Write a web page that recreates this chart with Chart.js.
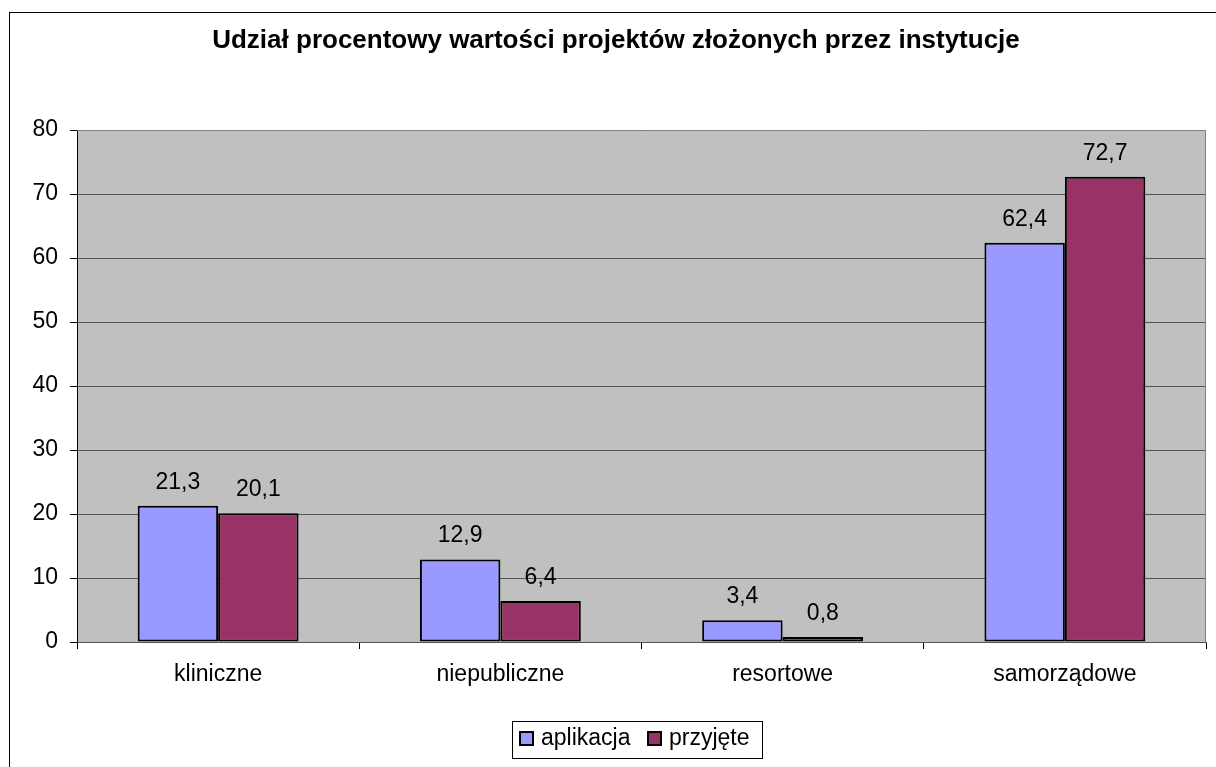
<!DOCTYPE html>
<html>
<head>
<meta charset="utf-8">
<script src="https://cdn.jsdelivr.net/npm/chart.js"></script>
<style>
    body { margin: 0; background: #fff; }
    #wrap { position: relative; width: 1216px; height: 767px; }
</style>
</head>
<body>
<div id="wrap"><canvas id="udzialChart" width="1216" height="767"></canvas></div>
<script>
const chartTitle = "Udział procentowy wartości projektów złożonych przez instytucje";
const categories = ["kliniczne", "niepubliczne", "resortowe", "samorządowe"];
const aplikacja = [21.3, 12.9, 3.4, 62.4];
const przyjete = [20.1, 6.4, 0.8, 72.7];
const seriesNames = ["aplikacja", "przyjęte"];
const seriesColors = ["#9999ff", "#993366"];
const yMin = 0, yMax = 80, yStep = 10;

const FONT = "'Liberation Sans', Arial, sans-serif";
const TEXT_SIZE = 23;
Chart.defaults.font.family = FONT;
Chart.defaults.color = "#000";

// frame, plot background, title, value labels and boxed legend
const excelLook = {
    id: "excelLook",
    beforeDraw(chart) {
        const ctx = chart.ctx;
        const a = chart.chartArea;
        ctx.save();
        ctx.fillStyle = "#fff";
        ctx.fillRect(0, 0, chart.width, chart.height);
        ctx.strokeStyle = "#000";
        ctx.lineWidth = 1;
        ctx.strokeRect(9.5, 12.5, 1400, 900);
        ctx.fillStyle = "#c0c0c0";
        ctx.fillRect(a.left, a.top, a.right - a.left, a.bottom - a.top);
        ctx.restore();
    },
    afterDatasetsDraw(chart) {
        const ctx = chart.ctx;
        ctx.save();
        ctx.font = TEXT_SIZE + "px " + FONT;
        ctx.fillStyle = "#000";
        ctx.textAlign = "center";
        ctx.textBaseline = "alphabetic";
        chart.data.datasets.forEach((ds, i) => {
            chart.getDatasetMeta(i).data.forEach((bar, j) => {
                ctx.fillText(String(ds.data[j]).replace(".", ","), bar.x, bar.y - 17);
            });
        });
        ctx.restore();
    },
    afterDraw(chart) {
        const ctx = chart.ctx;
        const a = chart.chartArea;
        ctx.save();
        // top / right edge of plot area
        ctx.strokeStyle = "#808080";
        ctx.lineWidth = 1;
        ctx.beginPath();
        ctx.moveTo(a.left, a.top + 0.5);
        ctx.lineTo(a.right - 0.5, a.top + 0.5);
        ctx.lineTo(a.right - 0.5, a.bottom);
        ctx.stroke();

        // title
        ctx.fillStyle = "#000";
        ctx.font = "bold 26px " + FONT;
        ctx.textAlign = "center";
        ctx.textBaseline = "alphabetic";
        ctx.fillText(chartTitle, 616, 48);

        // legend
        ctx.strokeStyle = "#000";
        ctx.strokeRect(512.5, 721.5, 250, 37);
        const boxX = [520, 648];
        ctx.font = TEXT_SIZE + "px " + FONT;
        ctx.textAlign = "left";
        seriesNames.forEach((name, i) => {
            ctx.fillStyle = seriesColors[i];
            ctx.fillRect(boxX[i], 732, 13, 13);
            ctx.lineWidth = 2;
            ctx.strokeStyle = "#000";
            ctx.strokeRect(boxX[i], 732, 13, 13);
            ctx.fillStyle = "#000";
            ctx.fillText(name, boxX[i] + 21, 745);
        });
        ctx.restore();
    }
};

const ctx = document.getElementById("udzialChart").getContext("2d");
const chart = new Chart(ctx, {
    type: "bar",
    data: {
        labels: categories,
        datasets: [
            {
                label: seriesNames[0],
                data: aplikacja,
                backgroundColor: seriesColors[0],
                borderColor: "#000",
                borderWidth: 2,
                borderSkipped: false
            },
            {
                label: seriesNames[1],
                data: przyjete,
                backgroundColor: seriesColors[1],
                borderColor: "#000",
                borderWidth: 2,
                borderSkipped: false
            }
        ]
    },
    options: {
        responsive: false,
        animation: false,
        categoryPercentage: 0.57,
        barPercentage: 1.0,
        layout: { padding: { top: 130, right: 10, bottom: 0, left: 0 } },
        plugins: {
            legend: { display: false },
            title: { display: false },
            tooltip: { enabled: false }
        },
        scales: {
            x: {
                afterFit: scale => { scale.height = 125; },
                grid: {
                    offset: true,
                    drawOnChartArea: false,
                    drawTicks: true,
                    tickLength: 7,
                    color: "#000"
                },
                border: { color: "#555", width: 1 },
                ticks: { font: { size: TEXT_SIZE }, padding: 12, color: "#000" }
            },
            y: {
                min: yMin,
                max: yMax,
                afterFit: scale => { scale.width = 77; },
                grid: {
                    color: "#555",
                    tickColor: "#000",
                    tickLength: 7
                },
                border: { color: "#000", width: 1 },
                ticks: { stepSize: yStep, font: { size: TEXT_SIZE }, padding: 12, color: "#000" }
            }
        }
    },
    plugins: [excelLook]
});
</script>
</body>
</html>
